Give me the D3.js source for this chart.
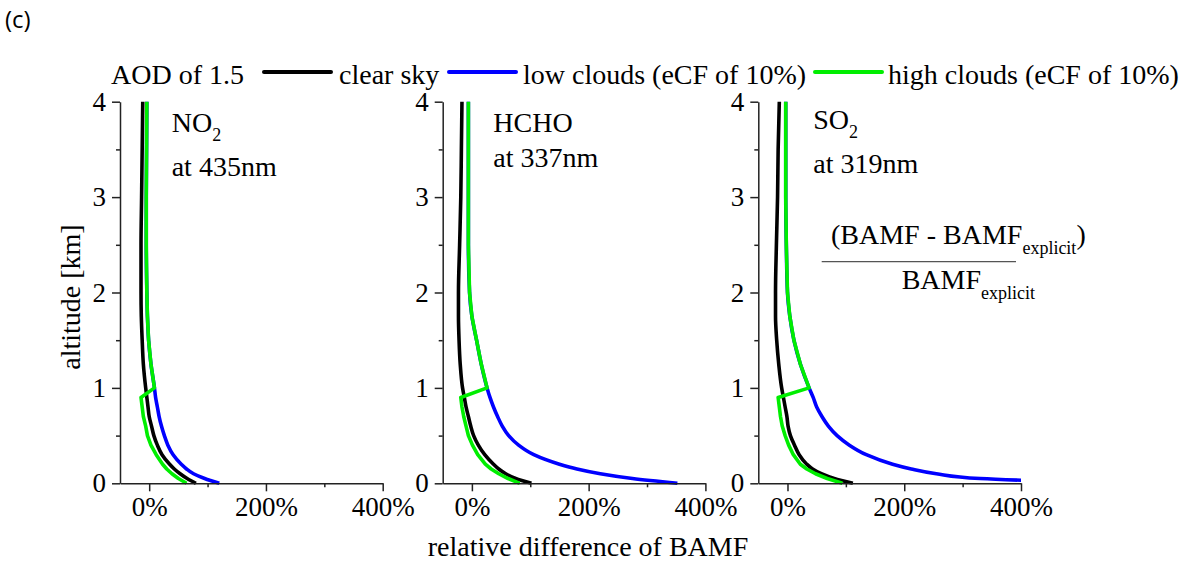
<!DOCTYPE html>
<html><head><meta charset="utf-8">
<script src="https://cdn.jsdelivr.net/npm/d3@7/dist/d3.min.js"></script>
<style>
html,body{margin:0;padding:0;background:#fff;}
svg{display:block;}
text{font-family:"Liberation Serif","Times New Roman",serif;fill:#000;}
</style></head>
<body>
<svg id="chart" width="1185" height="562"></svg>
<script>
// ---- data ----
const altitudes = [4, 3.5, 3, 2.5, 2, 1.75, 1.5, 1.25, 1, 0.9, 0.8, 0.7, 0.6, 0.5, 0.4, 0.3, 0.2, 0.15, 0.1, 0.05, 0];

const no2Clear = [-11, -12, -13, -14, -14, -13.5, -12, -10, -6, -4, -2, 0, 4, 8, 14, 22, 35, 43, 53, 65, 80];
const no2High  = [-4, -4.5, -5, -5, -4, -3, -1, 3, 9, -14, -12, -10, -6, -3, 3, 12, 23, 30, 39, 50, 64];
const no2Low   = [-4, -4.5, -5, -5, -4, -3, -1, 3, 9, 11, 14, 17, 21, 26, 32, 41, 55, 64, 76, 95, 120];

const hchoClear = [-17, -18, -19, -21, -23, -23, -22, -20, -16, -13, -10, -6, -2, 3, 11, 22, 37, 46, 58, 75, 102];
const hchoHigh  = [-6, -6, -6, -6, -4, 0, 8, 16, 26, -19, -17, -14, -10, -6, 1, 10, 23, 33, 46, 62, 82];
const hchoLow   = [-6, -6, -6, -6, -4, 0, 8, 16, 26, 31, 37, 44, 52, 63, 80, 106, 150, 180, 220, 275, 352];

const so2Clear = [-14, -16, -17, -19, -20.5, -20.5, -18.5, -15, -10, -7, -4, -1, 1, 5, 12, 20, 33, 43, 58, 80, 112];
const so2High  = [-3, -3, -3, -2, 0, 4, 11, 22, 37, -16, -14, -12, -9, -4, 2, 10, 22, 33, 48, 68, 94];
const so2Low   = [-3, -3, -3, -2, 0, 4, 11, 22, 37, 44, 50, 59, 70, 85, 106, 135, 180, 212, 255, 330, 560];

const panelNames = ["NO2", "HCHO", "SO2"];
const panelWavelengths = ["at 435nm", "at 337nm", "at 319nm"];
const xTickValues = [0, 200, 400];
const xMinorTicks = [100, 300];
const yTickValues = [0, 1, 2, 3, 4];
const yMinorTicks = [0.5, 1.5, 2.5, 3.5];
const legendLabels = ["clear sky", "low clouds (eCF of 10%)", "high clouds (eCF of 10%)"];
const seriesColors = ["#000000", "#0000ff", "#00ee00"];

// ---- layout ----
const svg = d3.select("#chart");
const panelLefts = [120, 442.7, 758.3];
const panelWidth = 262.7;
const yTop = 101.7, yBottom = 483.3;

const panelData = [
  {clear: no2Clear, low: no2Low, high: no2High},
  {clear: hchoClear, low: hchoLow, high: hchoHigh},
  {clear: so2Clear, low: so2Low, high: so2High}
];

const y = d3.scaleLinear().domain([0, 4]).range([yBottom, yTop]);

svg.append("text").attr("x", 5).attr("y", 28)
  .attr("font-family", "Open Sans, Noto Sans, sans-serif").attr("font-size", 24)
  .style("font-family", "'Open Sans','Noto Sans',sans-serif").style("font-size", "24px").text("(c)");

const defs = svg.append("defs");

panelData.forEach((pd, i) => {
  const x0 = panelLefts[i];
  const x = d3.scaleLinear().domain([-50, 400]).range([x0, x0 + panelWidth]);
  const g = svg.append("g");

  defs.append("clipPath").attr("id", "clip" + i)
    .append("rect").attr("x", x0).attr("y", yTop - 5).attr("width", panelWidth).attr("height", yBottom - yTop + 10);

  const lineSmooth = d3.line().x(d => x(d[1])).y(d => y(d[0])).curve(d3.curveMonotoneY);
  const lineLin = d3.line().x(d => x(d[1])).y(d => y(d[0]));

  const lines = g.append("g").attr("clip-path", `url(#clip${i})`)
    .attr("fill", "none").attr("stroke-width", 3.6).attr("stroke-linejoin", "round");
  lines.append("path").attr("d", lineSmooth(altitudes.map((a, k) => [a, pd.low[k]]))).attr("stroke", seriesColors[1]);
  lines.append("path").attr("d", lineSmooth(altitudes.map((a, k) => [a, pd.clear[k]]))).attr("stroke", seriesColors[0]);
  lines.append("path").attr("d", lineLin(altitudes.map((a, k) => [a, pd.high[k]]))).attr("stroke", seriesColors[2]);

  // x axis
  g.append("g").attr("transform", `translate(0,${yBottom})`)
    .call(d3.axisBottom(x).tickValues(xTickValues).tickSize(8).tickSizeOuter(0).tickPadding(5.5).tickFormat(d => d + "%"));
  g.append("g").attr("transform", `translate(0,${yBottom})`)
    .call(d3.axisBottom(x).tickValues(xMinorTicks).tickSize(4).tickSizeOuter(0).tickFormat(""))
    .select(".domain").remove();
  // y axis
  g.append("g").attr("transform", `translate(${x0},0)`)
    .call(d3.axisLeft(y).tickValues(yTickValues).tickSize(8).tickSizeOuter(0).tickPadding(6).tickFormat(d3.format("d")));
  g.append("g").attr("transform", `translate(${x0},0)`)
    .call(d3.axisLeft(y).tickValues(yMinorTicks).tickSize(4).tickSizeOuter(0).tickFormat(""))
    .select(".domain").remove();

  g.selectAll(".domain, .tick line").attr("stroke", "#222").attr("stroke-width", 1.5);
  g.selectAll(".tick text").style("font-family", "'Liberation Serif',serif").style("font-size", "27px").attr("fill", "#000");

  // annotation
  const name = panelNames[i];
  const tx = [171.7, 493.3, 813.3][i];
  const t = g.append("text").attr("x", tx).attr("y", [131.7, 131.7, 129.3][i]).style("font-size", "28px");
  if (name.endsWith("2")) {
    t.append("tspan").text(name.slice(0, -1));
    t.append("tspan").attr("dy", 9).style("font-size", "18px").text("2");
  } else {
    t.text(name);
  }
  g.append("text").attr("x", tx).attr("y", [176, 166.7, 173.3][i]).style("font-size", "28px").text(panelWavelengths[i]);
});

// formula
const fg = svg.append("g");
const num = fg.append("text").attr("x", 831).attr("y", 244).style("font-size", "28px");
num.append("tspan").text("(BAMF - BAMF");
num.append("tspan").attr("dy", 10).style("font-size", "18px").text("explicit");
num.append("tspan").attr("dy", -10).text(")");
fg.append("line").attr("x1", 821.7).attr("x2", 1016).attr("y1", 261.7).attr("y2", 261.7)
  .attr("stroke", "#555").attr("stroke-width", 1.3);
const den = fg.append("text").attr("x", 901.7).attr("y", 289.3).style("font-size", "28px");
den.append("tspan").text("BAMF");
den.append("tspan").attr("dy", 10).style("font-size", "18px").text("explicit");

// axis titles
svg.append("text").attr("transform", "translate(80,297) rotate(-90)").attr("text-anchor", "middle")
  .style("font-size", "28px").text("altitude [km]");
svg.append("text").attr("x", 588).attr("y", 556).attr("text-anchor", "middle")
  .style("font-size", "28px").text("relative difference of BAMF");

// legend
const lg = svg.append("g");
lg.append("text").attr("x", 111).attr("y", 84).style("font-size", "28px").text("AOD of 1.5");
const legLineX = [264, 449, 815];
const legTextX = [339, 523, 888];
legendLabels.forEach((lab, k) => {
  lg.append("line").attr("x1", legLineX[k]).attr("x2", legLineX[k] + 67).attr("y1", 72).attr("y2", 72)
    .attr("stroke", seriesColors[k]).attr("stroke-width", 4).attr("stroke-linecap", "round");
  lg.append("text").attr("x", legTextX[k]).attr("y", 84).style("font-size", "28px").text(lab);
});
</script>
</body></html>
